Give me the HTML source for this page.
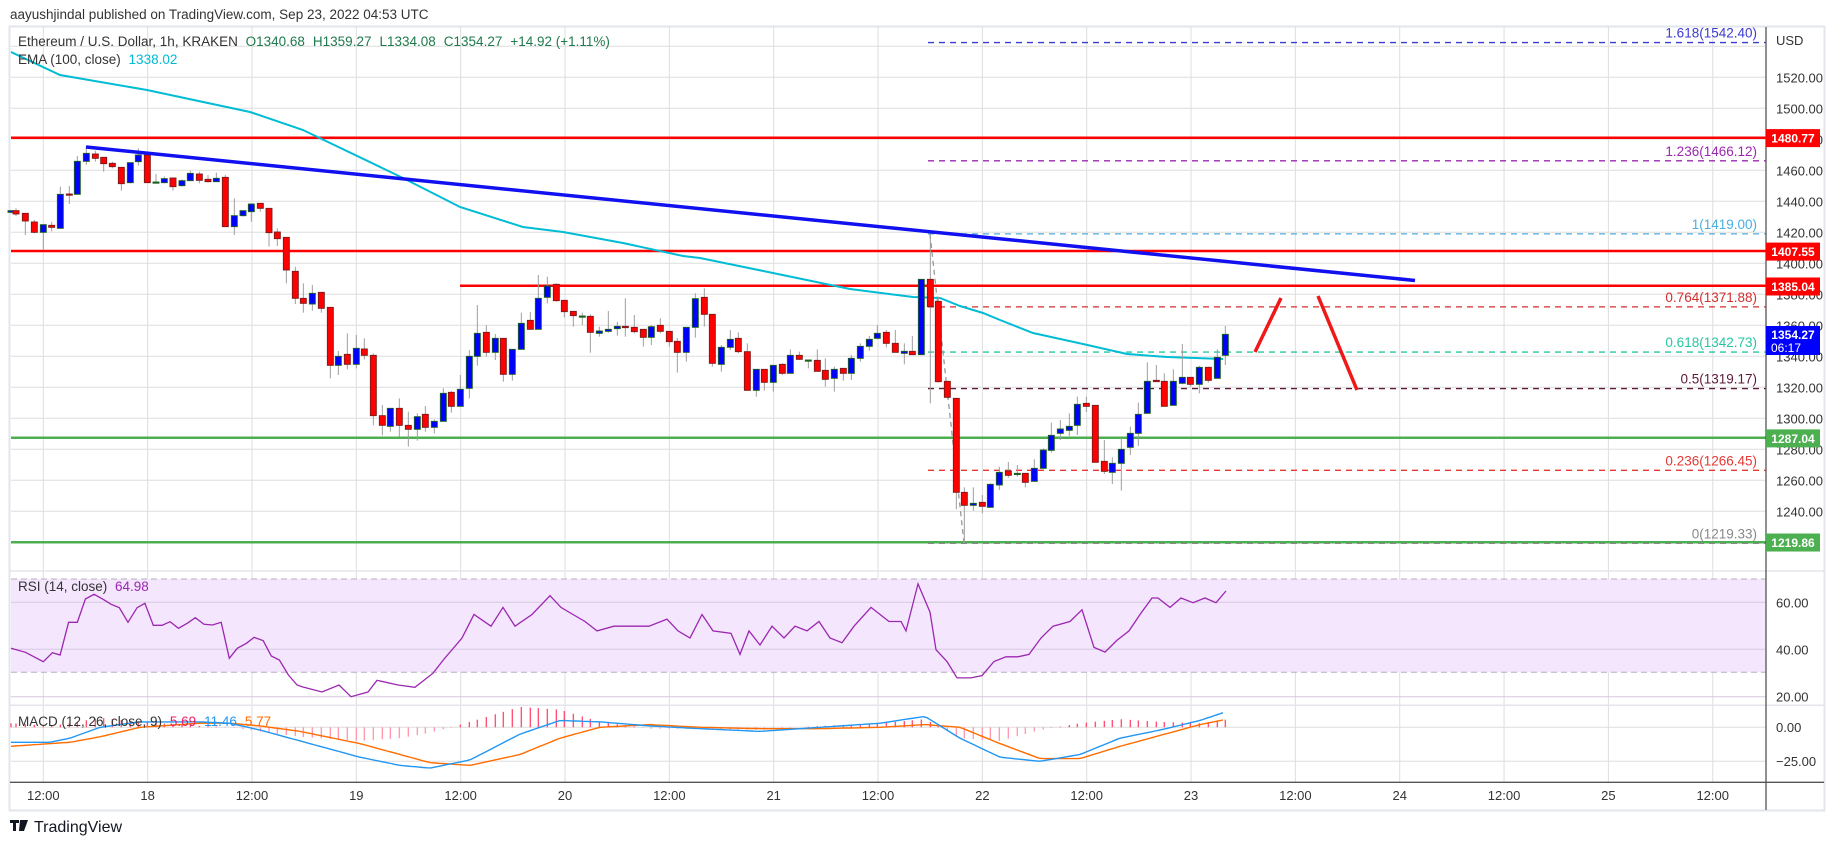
<!DOCTYPE html>
<html><head><meta charset="utf-8">
<style>
html,body{margin:0;padding:0;background:#fff;}
svg{display:block;font-family:"Liberation Sans",sans-serif;}
</style></head>
<body>
<svg id="c" width="1834" height="845" viewBox="0 0 1834 845" xmlns="http://www.w3.org/2000/svg">
<rect x="0" y="0" width="1834" height="845" fill="#fff"/>
<text x="10" y="19" font-size="13.5" fill="#333">aayushjindal published on TradingView.com, Sep 23, 2022 04:53 UTC</text>
<rect x="9.5" y="26.5" width="1815" height="784" fill="#fff" stroke="#e3e5ec" stroke-width="2"/>
<g id="grid"></g>
<rect x="11" y="579" width="1755" height="93.3" fill="#f3e6fd"/>
<g id="grid2"></g>
<line x1="11" y1="579" x2="1766" y2="579" stroke="#b9adbf" stroke-dasharray="6,4"/>
<line x1="11" y1="672.3" x2="1766" y2="672.3" stroke="#b9adbf" stroke-dasharray="6,4"/>
<line x1="10" y1="571" x2="1824" y2="571" stroke="#e3e5ec" stroke-width="1.5"/>
<line x1="10" y1="705.3" x2="1824" y2="705.3" stroke="#e3e5ec" stroke-width="1.5"/>
<g id="lines"></g>
<g id="candles"></g>
<g id="over"></g>
<line x1="1766" y1="27" x2="1766" y2="810" stroke="#555" stroke-width="1.3"/>
<line x1="10" y1="782.3" x2="1824" y2="782.3" stroke="#555" stroke-width="1.3"/>
<g id="axis" font-size="13" fill="#333"></g>
<text x="18" y="46" font-size="13.5" fill="#333">Ethereum / U.S. Dollar, 1h, KRAKEN <tspan fill="#1e7a4c" dx="4">O1340.68</tspan><tspan dx="8" fill="#1e7a4c">H1359.27</tspan><tspan dx="8" fill="#1e7a4c">L1334.08</tspan><tspan dx="8" fill="#1e7a4c">C1354.27</tspan><tspan dx="8" fill="#1e7a4c">+14.92 (+1.11%)</tspan></text>
<text x="18" y="64" font-size="13.5" fill="#333">EMA (100, close) <tspan fill="#00bcd4" dx="4">1338.02</tspan></text>
<text x="18" y="591" font-size="13.5" fill="#333">RSI (14, close) <tspan fill="#9c27b0" dx="4">64.98</tspan></text>
<text x="18" y="726" font-size="13.5" fill="#333">MACD (12, 26, close, 9) <tspan fill="#e91e63" dx="4">5.69</tspan><tspan fill="#2196f3" dx="8">11.46</tspan><tspan fill="#ff6d00" dx="8">5.77</tspan></text>
<g transform="translate(10,818)">
<path d="M0 2h9v3h-3v8h-3v-8h-3z M10 2h4l-2 11h-3z M14 2h4l-4 11h-3z" fill="#131722"/>
<text x="24" y="14" font-size="16" fill="#131722">TradingView</text>
</g>
</svg>
<script>
(function(){
var NS="http://www.w3.org/2000/svg";
function el(p,t,a,txt){var e=document.createElementNS(NS,t);for(var k in a)e.setAttribute(k,a[k]);if(txt!==undefined)e.textContent=txt;document.getElementById(p).appendChild(e);return e;}
function py(p){return 77.3+(1520-p)*1.55;}
for(var p=1540;p>=1220;p-=20){var y=py(p);el('grid','line',{x1:11,y1:y,x2:1766,y2:y,stroke:'#dedede','stroke-width':1});}
var vx=[];for(var k=0;k<17;k++){vx.push(43.3+104.34*k);}
vx.forEach(function(x){el('grid','line',{x1:x,y1:27,x2:x,y2:782,stroke:'#dedede','stroke-width':1});});
[602.3,649.3,696.7,727.3,761.3].forEach(function(y){el('grid2','line',{x1:11,y1:y,x2:1766,y2:y,stroke:(y<700?'#d6c8e0':'#dedede'),'stroke-width':1});});
el('lines','line',{x1:11,y1:137.7,x2:1766,y2:137.7,stroke:'#ff0000','stroke-width':2.5});
el('lines','line',{x1:11,y1:251,x2:1766,y2:251,stroke:'#ff0000','stroke-width':2.5});
el('lines','line',{x1:460,y1:285.7,x2:1766,y2:285.7,stroke:'#ff0000','stroke-width':2.5});
el('lines','line',{x1:11,y1:437.7,x2:1766,y2:437.7,stroke:'#4caf50','stroke-width':2.5});
el('lines','line',{x1:11,y1:542.2,x2:1766,y2:542.2,stroke:'#4caf50','stroke-width':2.5});
var fib=[[1542.40,'1.618','#3b3bd0'],[1466.12,'1.236','#9c27b0'],[1419.00,'1','#4aaede'],[1371.88,'0.764','#d32f2f'],[1342.73,'0.618','#26c6a0'],[1319.17,'0.5','#5d1a3a'],[1266.45,'0.236','#e53935'],[1219.33,'0','#888888']];
fib.forEach(function(f){var y=py(f[0]);el('lines','line',{x1:928,y1:y,x2:1766,y2:y,stroke:f[2],'stroke-width':1.3,'stroke-dasharray':'6,5'});
el('over','text',{x:1757,y:y-5,'font-size':13.5,fill:f[2],'text-anchor':'end'},f[1]+'('+f[0].toFixed(2)+')');});
el('lines','line',{x1:930,y1:234,x2:964,y2:543,stroke:'#999','stroke-width':1.3,'stroke-dasharray':'5,4'});
var ema=[[11,52],[60,75],[147,90],[250,112],[303,130],[403,178],[460,207],[523,227],[563,232],[623,243],[683,256],[700,258],[773,273],[850,289],[913,297],[940,298],[960,306],[983,313],[1000,320],[1033,333],[1083,344],[1127,354],[1167,357],[1223,359]];
el('lines','polyline',{points:ema.map(function(p){return p.join(',');}).join(' '),fill:'none',stroke:'#00bcd4','stroke-width':2});
el('over','line',{x1:86,y1:147,x2:1415,y2:280.5,stroke:'#1010f0','stroke-width':3.5});
el('over','line',{x1:1255,y1:352,x2:1281,y2:298,stroke:'#f01818','stroke-width':3.5});
el('over','line',{x1:1318,y1:296,x2:1357,y2:390,stroke:'#f01818','stroke-width':3.5});
var segs=[
[0,20,[[33,572,577,'b',570,580],[48,572,582,'r',565,588],[76,580,603,'r',580,645],[103,606,637,'r',600,640],[130,614,637,'b',614,688],[155,616,622,'r',606,634],[181,523,625,'b',500,625],[208,522,525,'r',498,552],[232,424,523,'b',408,523],[259,400,424,'b',380,434],[286,402,415,'r',392,425],[311,412,431,'r',412,455],[337,430,440,'r',425,445],[364,442,491,'r',442,512],[391,428,488,'b',428,490],[415,405,425,'b',385,437],[442,405,488,'r',405,488],[468,486,488,'g',462,490],[493,476,488,'b',470,490],[519,474,500,'r',474,512],[546,482,497,'b',478,500],[571,460,482,'b',452,482],[598,462,481,'r',455,490],[624,478,485,'r',465,488],[649,475,485,'b',458,485],[676,472,620,'r',465,620],[703,587,620,'b',535,645],[729,572,587,'b',572,590],[754,552,575,'b',552,605],[781,550,565,'r',550,575],[807,565,638,'r',565,680],[832,636,656,'r',625,678],[859,652,750,'r',652,790]]],
[290,130,[[16,424,505,'r',410,522],[40,505,520,'r',460,548],[67,490,522,'b',465,542],[94,487,535,'r',487,548],[121,532,706,'r',532,745],[145,679,706,'b',663,735],[172,673,703,'r',610,718],[199,655,703,'b',615,715],[223,657,676,'r',625,688],[250,676,857,'r',670,886],[277,857,886,'r',825,916],[301,835,889,'b',835,905],[328,835,886,'r',805,920],[355,886,898,'r',845,950],[382,860,898,'b',850,932],[406,853,892,'r',828,905],[433,874,892,'b',868,910],[460,790,874,'b',775,874],[484,787,829,'r',783,848],[511,778,829,'b',735,829],[538,679,775,'b',660,805],[562,610,679,'b',525,707],[589,607,667,'r',585,680],[616,625,667,'b',612,690],[640,625,733,'r',625,755],[667,658,733,'b',658,752],[694,580,658,'b',548,658],[721,571,598,'r',546,598],[745,505,598,'b',435,598],[772,468,502,'b',440,520],[799,463,512,'r',460,515],[823,511,545,'r',511,562],[850,544,557,'r',544,590],[877,558,561,'g',548,585],[901,559,607,'r',553,668],[928,603,610,'b',590,620],[955,598,604,'b',543,608],[982,589,596,'b',576,617],[1006,589,593,'r',505,620],[1033,592,605,'r',555,610],[1060,598,622,'r',598,650],[1084,590,622,'b',585,645],[1111,586,604,'r',565,610],[1138,604,635,'r',604,650],[1162,634,667,'r',624,728],[1189,592,667,'b',592,695],[1216,506,592,'b',490,623],[1243,502,553,'r',475,590]]],
[700,200,[[37,343,490,'r',343,500],[64,442,493,'b',435,515],[91,418,442,'b',390,450],[115,415,455,'r',397,460],[142,455,571,'r',430,571],[169,508,571,'b',508,590],[193,508,547,'r',508,572],[220,496,547,'b',496,575],[247,493,520,'r',490,525],[271,466,520,'b',448,520],[298,466,478,'r',455,480],[325,480,482,'g',480,505],[352,481,514,'r',448,514],[376,511,538,'r',475,560],[403,508,535,'b',500,575],[430,505,520,'r',505,542],[454,475,520,'b',465,540],[481,439,475,'b',430,485],[508,418,439,'b',408,452],[532,400,415,'b',375,418],[559,397,430,'r',390,442],[586,430,457,'r',390,457],[613,454,460,'b',430,493],[637,454,464,'r',408,464],[664,238,464,'b',238,464],[691,238,320,'r',100,610],[715,304,545,'r',290,548],[742,544,592,'r',544,595],[769,595,877,'r',595,928],[793,877,916,'r',862,1028],[820,910,916,'b',862,932],[847,907,919,'r',885,940],[871,853,922,'b',850,922]]],
[900,200,[[298,817,855,'b',800,870],[325,813,826,'r',786,833],[352,820,823,'g',795,830],[376,820,847,'r',820,862],[403,805,844,'b',778,844],[430,750,805,'b',745,805],[454,706,751,'b',668,758],[481,687,700,'b',660,720],[508,679,691,'b',640,708],[532,613,676,'b',590,705],[559,610,619,'r',590,636],[586,616,787,'r',616,787],[613,784,814,'r',720,822],[637,790,817,'b',772,852],[664,748,790,'b',715,872],[691,700,742,'b',680,765],[715,643,700,'b',608,738],[742,544,640,'b',487,640],[769,541,545,'r',495,545],[793,544,619,'r',520,619],[820,544,616,'b',508,616],[847,532,550,'b',432,553],[871,532,553,'r',532,560],[898,502,553,'b',497,580],[925,502,541,'r',500,548],[952,472,535,'b',448,535],[976,403,466,'b',378,495]]]
];
var xs=[];
segs.forEach(function(s){var ox=s[0],oy=s[1];s[2].forEach(function(c){
var x=ox+c[0]/3,t=oy+c[1]/3,b=oy+c[2]/3,wt=oy+c[4]/3,wb=oy+c[5]/3;xs.push(x);
el('candles','line',{x1:x,y1:wt,x2:x,y2:wb,stroke:'#9e9e9e','stroke-width':1});
var fill=c[3]=='r'?'#ff0000':(c[3]=='b'?'#0000ff':'#1b5e20');
var st=c[3]=='r'?'#7a1a1a':'#1b5e20';
el('candles','rect',{x:x-3,y:t,width:6,height:Math.max(b-t,1.2),fill:fill,stroke:st,'stroke-width':0.9});
});});
function ry(v){return 696.7-(v-20)*2.35;}
var r1=[[0,310],[45,322],[100,350],[128,323],[152,330],[178,232],[205,232],[230,162],[257,148],[285,163],[310,178],[335,188],[362,232],[390,188],[414,175],[440,241],[467,241],[492,230],[518,250],[545,235],[570,218],[597,238],[623,240],[650,232],[675,340],[700,310],[728,295],[752,277],[780,287],[805,333],[830,345],[858,390],[885,420],[900,425]];
var rp=r1.map(function(p){return [11+p[0]/3*0.97,545+p[1]/3];});
var r2=[[322,22],[339,25],[351,20],[368,22],[377,27],[398,25],[415,24],[433,30],[444,36],[462,45],[474,55],[491,50],[503,58],[515,50],[532,55],[550,63],[561,58],[573,55],[585,52],[597,48],[614,50],[632,50],[649,50],[667,53],[678,48],[690,45],[702,55],[713,48],[731,47],[740,38],[749,48],[760,42],[772,50],[784,45],[795,50],[807,48],[819,52],[830,45],[842,43],[854,50],[871,58],[889,52],[901,52],[906,48],[918,68],[930,56],[936,40],[947,35],[957,28],[971,28],[982,29],[994,35],[1006,37],[1018,37],[1029,38],[1041,45],[1053,50],[1070,52],[1082,57],[1094,41],[1105,39],[1117,44],[1129,48],[1140,55],[1152,62],[1158,62],[1170,58],[1181,62],[1193,60],[1205,62],[1216,60],[1226,65]];
r2.forEach(function(p){rp.push([p[0],ry(p[1])]);});
el('lines','polyline',{points:rp.map(function(p){return p[0].toFixed(1)+','+p[1].toFixed(1);}).join(' '),fill:'none',stroke:'#9c27b0','stroke-width':1.3});
var md=[[10,-11,-14],[50,-11,-12],[70,-8,-11],[100,0,-7],[140,4,0],[200,4,3],[230,3,3],[260,-2,1],[300,-10,-3],[360,-22,-12],[400,-28,-20],[430,-30,-26],[470,-24,-28],[520,-5,-20],[560,5,-8],[600,4,0],[650,1,2],[700,-1,0],[760,-3,-1],[820,0,-1],[880,3,0],[925,8,2],[960,-8,0],[1000,-22,-12],[1040,-25,-23],[1080,-20,-23],[1120,-8,-14],[1160,-2,-6],[1200,5,2],[1226,11.46,5.77]];
function interp(x,i){for(var k=0;k<md.length-1;k++){if(x>=md[k][0]&&x<=md[k+1][0]){var t=(x-md[k][0])/(md[k+1][0]-md[k][0]);return md[k][i]+(md[k+1][i]-md[k][i])*t;}}return md[md.length-1][i];}
function my(v){return 727.3-v*1.36;}
xs.forEach(function(x){var h=interp(x,1)-interp(x,2);el('lines','line',{x1:x,y1:727.3,x2:x,y2:my(h),stroke:h>0?'#ff5274':'#ff9ab0','stroke-width':1.4});});
var mb=[],ms=[];for(var x=11;x<=1226;x+=4){mb.push(x+','+my(interp(x,1)).toFixed(1));ms.push(x+','+my(interp(x,2)).toFixed(1));}
el('lines','polyline',{points:ms.join(' '),fill:'none',stroke:'#ff6d00','stroke-width':1.4});
el('lines','polyline',{points:mb.join(' '),fill:'none',stroke:'#2196f3','stroke-width':1.4});
el('axis','text',{x:1776,y:45},'USD');
for(var p=1520;p>=1240;p-=20){el('axis','text',{x:1776,y:py(p)+5},p.toFixed(2));}
[[60,602.3],[40,649.3],[20,696.7]].forEach(function(a){el('axis','text',{x:1776,y:a[1]+5},a[0].toFixed(2));});
el('axis','text',{x:1776,y:732},'0.00');el('axis','text',{x:1776,y:766},'\u221225.00');
var tl=['12:00','18','12:00','19','12:00','20','12:00','21','12:00','22','12:00','23','12:00','24','12:00','25','12:00'];
vx.forEach(function(x,i){el('axis','text',{x:x,y:800,'text-anchor':'middle'},tl[i]);});
[[1480.77,'#ff0000'],[1407.55,'#ff0000'],[1385.04,'#ff0000'],[1287.04,'#4caf50'],[1219.86,'#4caf50']].forEach(function(b){var y=py(b[0]);
el('axis','rect',{x:1766,y:y-9,width:54,height:18,fill:b[1]});
el('axis','text',{x:1793,y:y+4.5,fill:'#fff','font-weight':'bold','font-size':12,'text-anchor':'middle'},b[0].toFixed(2));});
el('axis','rect',{x:1766,y:326,width:54,height:29,fill:'#0000ff'});
el('axis','text',{x:1793,y:339,fill:'#fff','font-weight':'bold','font-size':12,'text-anchor':'middle'},'1354.27');
el('axis','text',{x:1771,y:352,fill:'#fff','font-size':12},'06:17');
})();
</script>
</body></html>
